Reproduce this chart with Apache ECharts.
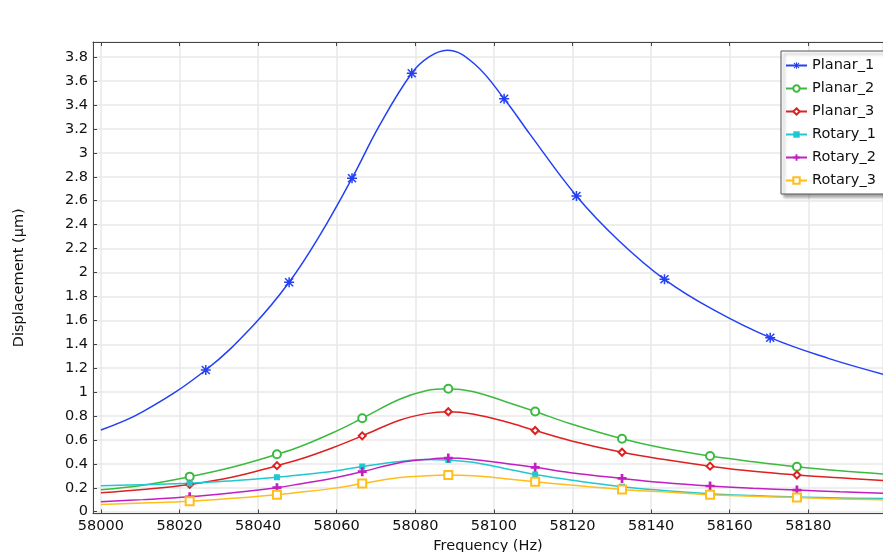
<!DOCTYPE html>
<html>
<head>
<meta charset="utf-8">
<script src="https://cdn.jsdelivr.net/npm/echarts@6/dist/echarts.min.js"></script>
<style>
  html, body { margin: 0; padding: 0; background: #fff; }
  #chart { width: 883px; height: 552px; }
</style>
</head>
<body>
<div id="chart"></div>
<script>
// Planar_1 has its own sample points, the other five share the same ones
var planar1Freq = [58000, 58010.7, 58038.7, 58055.7, 58070.9, 58083.6, 58088.1, 58095, 58109.2, 58131.8, 58155.8, 58185.1, 58199];
var planar1Val = [0.683, 0.836, 1.555, 2.31, 3.23, 3.804, 3.858, 3.745, 3.155, 2.266, 1.689, 1.282, 1.15];
var planar1MarkFreq = [58026.7, 58047.9, 58063.9, 58079.1, 58102.6, 58121.0, 58143.4, 58170.3];
var planar1MarkVal = [1.185, 1.918, 2.788, 3.666, 3.453, 2.64, 1.943, 1.455];

var curveFreq = [58000, 58010.7, 58033.6, 58050.6, 58059, 58076, 58082.7, 58094.6, 58103, 58119.5, 58143, 58166, 58188, 58199];
var markFreq = [58022.6, 58044.8, 58066.5, 58088.4, 58110.5, 58132.6, 58155, 58177.1];

var planar2Val = [0.184, 0.222, 0.374, 0.543, 0.66, 0.94, 1.012, 1.005, 0.92, 0.735, 0.532, 0.418, 0.343, 0.316];
var planar2Mark = [0.293, 0.48, 0.781, 1.028, 0.838, 0.61, 0.466, 0.376];

var planar3Val = [0.159, 0.186, 0.29, 0.438, 0.535, 0.765, 0.82, 0.817, 0.752, 0.594, 0.438, 0.338, 0.283, 0.26];
var planar3Mark = [0.228, 0.385, 0.634, 0.836, 0.679, 0.497, 0.381, 0.307];

var rotary1Val = [0.218, 0.226, 0.259, 0.307, 0.338, 0.42, 0.437, 0.413, 0.36, 0.265, 0.178, 0.135, 0.115, 0.11];
var rotary1Mark = [0.237, 0.288, 0.378, 0.432, 0.311, 0.209, 0.151, 0.122];

var rotary2Val = [0.084, 0.101, 0.158, 0.232, 0.28, 0.41, 0.436, 0.437, 0.403, 0.326, 0.244, 0.196, 0.166, 0.154];
var rotary2Mark = [0.125, 0.201, 0.335, 0.448, 0.371, 0.278, 0.215, 0.181];

var rotary3Val = [0.06, 0.072, 0.112, 0.162, 0.195, 0.285, 0.3, 0.3, 0.276, 0.223, 0.166, 0.13, 0.107, 0.099];
var rotary3Mark = [0.087, 0.142, 0.235, 0.306, 0.251, 0.186, 0.142, 0.118];

var asterisk = 'path://M8.5 0L11.5 0L11.5 20L8.5 20Z M0 8.5L20 8.5L20 11.5L0 11.5Z M0.94 3.06L3.06 0.94L19.06 16.94L16.94 19.06Z M16.94 0.94L19.06 3.06L3.06 19.06L0.94 16.94Z';
var plus = 'path://M7 0L13 0L13 7L20 7L20 13L13 13L13 20L7 20L7 13L0 13L0 7L7 7Z';

var font = 'DejaVu Sans';

// curve points get no symbol, marker points get the series symbol
function buildData (freq, val, mFreq, mVal) {
  var pts = []
  for (var i = 0; i < freq.length; i++) {
    pts.push({value: [freq[i], val[i]], symbol: 'none'})
  }
  for (var j = 0; j < mFreq.length; j++) {
    pts.push({value: [mFreq[j], mVal[j]]})
  }
  pts.sort(function (a, b) { return a.value[0] - b.value[0] })
  return pts
}

function makeSeries (name, color, data, symbol, size, border) {
  return {
    name: name,
    type: 'line',
    data: data,
    smooth: 0.4,
    showSymbol: true,
    symbol: symbol,
    symbolSize: size,
    lineStyle: {color: color, width: 1.5},
    itemStyle: {color: color, borderColor: color, borderWidth: border},
    emphasis: {disabled: true}
  }
}

var series = [
  makeSeries('Planar_1', '#2340f5', buildData(planar1Freq, planar1Val, planar1MarkFreq, planar1MarkVal), asterisk, 10, 0),
  makeSeries('Planar_2', '#3cba40', buildData(curveFreq, planar2Val, markFreq, planar2Mark), 'emptyCircle', 8, 1.2),
  makeSeries('Planar_3', '#dd2020', buildData(curveFreq, planar3Val, markFreq, planar3Mark), 'emptyDiamond', 7, 1),
  makeSeries('Rotary_1', '#20c8d0', buildData(curveFreq, rotary1Val, markFreq, rotary1Mark), 'rect', 6, 0),
  makeSeries('Rotary_2', '#c020c0', buildData(curveFreq, rotary2Val, markFreq, rotary2Mark), plus, 9, 0),
  makeSeries('Rotary_3', '#ffbe1a', buildData(curveFreq, rotary3Val, markFreq, rotary3Mark), 'emptyRect', 8, 1.2)
];

var axisColor = '#444';
var gridColor = '#e9e9e9';

var chart = echarts.init(document.getElementById('chart'), null, {renderer: 'canvas'});
var option = {
  backgroundColor: '#fff',
  animation: false,
  textStyle: {fontFamily: font},
  grid: {left: 93, top: 42, right: 0, bottom: 38.5, containLabel: false, outerBoundsMode: 'none'},
  legend: {
    orient: 'vertical',
    left: 781,
    top: 51,
    padding: [7, 40, 6, 4],
    itemWidth: 21,
    itemHeight: 8,
    itemGap: 8,
    backgroundColor: '#fff',
    borderColor: '#555',
    borderWidth: 1,
    shadowColor: 'rgba(0,0,0,0.35)',
    shadowBlur: 3,
    shadowOffsetX: 3,
    shadowOffsetY: 3,
    textStyle: {fontFamily: font, fontSize: 14.5, color: '#111', lineHeight: 14, padding: [0, 0, 0, 0]},
    data: ['Planar_1', 'Planar_2', 'Planar_3', 'Rotary_1', 'Rotary_2', 'Rotary_3']
  },
  xAxis: [{
    type: 'value',
    min: 57998,
    max: 58199,
    splitNumber: 10,
    name: 'Frequency (Hz)',
    nameLocation: 'middle',
    nameGap: 24,
    nameTextStyle: {fontFamily: font, fontSize: 14.5, color: '#111'},
    axisLine: {show: true, onZero: false, lineStyle: {color: axisColor, width: 1}},
    axisTick: {show: true, inside: true, length: 4, lineStyle: {color: axisColor}},
    axisLabel: {
      fontFamily: font, fontSize: 14.5, color: '#111', margin: 5,
      showMinLabel: false, showMaxLabel: false,
      formatter: function (v) { return String(Math.round(v)) }
    },
    splitLine: {show: true, lineStyle: {color: gridColor, width: 1.5}}
  }, {
    type: 'value',
    position: 'top',
    min: 57998,
    max: 58199,
    splitNumber: 10,
    axisLine: {show: true, onZero: false, lineStyle: {color: axisColor, width: 1}},
    axisTick: {show: true, inside: true, length: 4, lineStyle: {color: axisColor}},
    axisLabel: {show: false},
    splitLine: {show: false}
  }],
  yAxis: {
    type: 'value',
    min: -0.015,
    max: 3.927,
    splitNumber: 20,
    name: 'Displacement (μm)',
    nameLocation: 'middle',
    nameGap: 66,
    nameTextStyle: {fontFamily: font, fontSize: 14.5, color: '#111'},
    axisLine: {show: true, onZero: false, lineStyle: {color: axisColor, width: 1}},
    axisTick: {show: true, inside: true, length: 4, lineStyle: {color: axisColor}},
    axisLabel: {
      fontFamily: font, fontSize: 14.5, color: '#111', margin: 5,
      showMinLabel: false, showMaxLabel: false,
      formatter: function (v) { return String(Math.round(v * 10) / 10) }
    },
    splitLine: {show: true, lineStyle: {color: gridColor, width: 1.5}}
  },
  series: series
};
chart.setOption(option);
</script>
</body>
</html>
